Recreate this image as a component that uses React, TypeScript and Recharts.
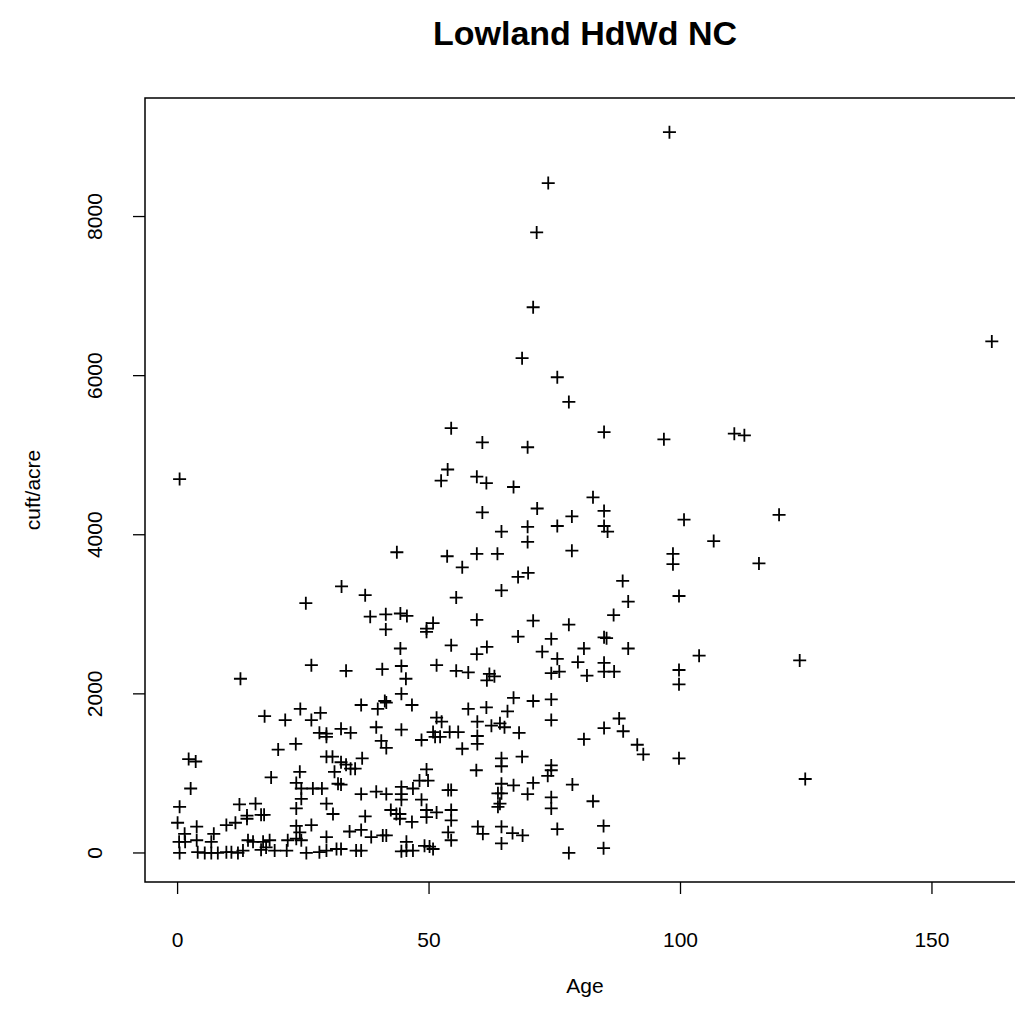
import React from 'react';
import { ScatterChart, Scatter, XAxis, YAxis, ReferenceArea, Label } from 'recharts';

// Stand age (years) and gross volume (cubic feet per acre) for each plot
const ages = [
  97.8, 73.7, 71.4, 70.7, 68.5, 75.5, 77.8, 161.9,
  84.8, 96.7, 69.6, 66.8, 82.6, 71.5, 84.8, 78.4, 100.7,
  110.7, 112.7, 119.6,
  106.6, 115.6, 103.7, 123.7, 124.8,
  69.6, 69.6, 75.5, 84.8, 85.5, 78.4, 98.5, 98.5, 67.7, 69.7, 88.5, 99.7, 89.6,
  86.7, 70.7, 77.8, 67.7, 74.3, 84.8, 85.3, 72.5, 80.8, 89.6, 75.5, 79.6, 84.8,
  74.3, 75.9, 81.4, 84.8, 86.8, 99.7, 99.7, 66.8, 70.7, 74.3, 74.3, 87.8, 84.8,
  88.6, 67.9, 80.8, 91.4, 92.6, 68.5, 99.7, 74.3, 74.3,
  73.6, 66.8, 70.7, 69.6, 74.3, 78.5, 74.3, 82.6, 84.7, 75.5, 66.6, 68.6, 84.7, 77.8,
  18.6, 24.3, 23.6, 31.2, 31.9, 2.6, 24.6, 26.9, 28.7, 24.6, 0.4, 12.3, 15.5, 23.6,
  29.6, 30.9, 13.8, 16.6, 17.2, 0, 9.7, 11.5, 13.8, 23.6, 26.6, 3.8, 1.4, 0.3, 1.5,
  3.8, 7.2, 6.7, 14.0, 15.0, 17.0, 18.3, 21.9, 23.6, 24.6, 29.6, 24.3, 0.4, 4.0, 6.7,
  9.7, 10.7, 12.0, 13.0, 16.6, 17.6, 19.3, 21.7, 25.6, 28.2, 29.6, 31.6, 5.4, 8.0,
  49.8, 48.1, 32.5, 36.5, 39.5, 41.5, 44.5, 44.5, 44.5, 46.8, 48.5, 53.8, 54.4, 64.4,
  63.7, 64.4, 64.1, 63.7, 37.3, 42.4, 43.5, 44.2, 44.2, 46.6, 49.5, 49.5, 51.5, 54.4,
  54.4, 59.7, 60.7, 64.4, 64.4, 53.8, 54.4, 34.2, 36.5, 38.5, 40.8, 41.5, 32.5, 35.5,
  36.5, 44.5, 45.5, 46.8, 45.5, 49.1, 50.1, 50.8,
  26.6, 12.5, 17.3, 21.4, 24.4, 26.6, 28.4, 28.2, 29.6, 29.6, 20.0, 23.5, 2.2, 3.6,
  29.6, 30.8,
  33.5, 40.7, 44.5, 45.4, 51.5, 55.4, 57.8, 62.0, 63.0, 61.5, 44.5, 36.5, 41.2, 41.5,
  39.8, 46.6, 39.5, 32.5, 34.4, 44.5, 40.5, 41.5, 57.8, 61.4, 65.6, 51.5, 52.5, 50.8,
  51.2, 52.2, 48.5, 54.1, 55.8, 56.6, 59.6, 59.6, 59.6, 62.4, 64.1, 65.0, 64.4, 64.4,
  59.4, 49.5, 36.7, 32.5, 33.5, 34.4, 35.3,
  0.4, 54.4, 60.6, 53.7, 52.4, 59.5, 61.4, 60.6, 64.4, 43.6, 53.6, 59.5, 63.6, 56.6,
  32.6, 37.3, 25.5, 55.4, 64.4, 38.3, 41.4, 44.3, 45.6, 41.4, 50.8, 49.5, 49.5, 59.5,
  44.3, 54.4, 59.5, 61.5,
];

const volumes = [
  9060, 8420, 7800, 6860, 6220, 5980, 5670, 6430,
  5290, 5200, 5100, 4600, 4470, 4330, 4300, 4230, 4190,
  5270, 5250, 4250,
  3920, 3640, 2480, 2420, 930,
  4100, 3910, 4110, 4110, 4040, 3800, 3760, 3630, 3470, 3520, 3420, 3230, 3160,
  2990, 2920, 2870, 2720, 2690, 2710, 2700, 2530, 2570, 2570, 2440, 2400, 2390,
  2260, 2280, 2230, 2280, 2280, 2300, 2120, 1950, 1910, 1930, 1670, 1690, 1570,
  1530, 1510, 1430, 1360, 1240, 1210, 1190, 1100, 1040,
  970, 850, 880, 740, 700, 860, 560, 650, 340, 300, 250, 220, 60, 0,
  950, 1020, 880, 1020, 870, 810, 810, 810, 810, 680, 580, 610, 620, 560,
  620, 490, 470, 480, 480, 380, 350, 380, 430, 340, 350, 330, 240, 140, 140,
  160, 240, 140, 160, 140, 140, 160, 160, 180, 160, 200, 260, 0, 10, 0,
  10, 10, 0, 30, 40, 70, 30, 30, 0, 10, 30, 50, 0, 0,
  910, 910, 860, 740, 770, 740, 830, 740, 670, 810, 670, 790, 790, 870,
  750, 750, 620, 580, 460, 540, 490, 490, 430, 390, 540, 450, 510, 540,
  410, 330, 240, 330, 120, 260, 160, 270, 290, 200, 220, 220, 50, 30,
  30, 20, 30, 30, 140, 90, 80, 50,
  2360, 2190, 1720, 1670, 1810, 1670, 1760, 1510, 1500, 1460, 1300, 1370, 1180, 1150,
  1210, 1210,
  2290, 2310, 2350, 2190, 2360, 2290, 2270, 2250, 2220, 2170, 2000, 1860, 1910, 1890,
  1810, 1860, 1580, 1560, 1510, 1550, 1410, 1320, 1810, 1830, 1780, 1700, 1650, 1520,
  1460, 1460, 1420, 1520, 1520, 1310, 1650, 1470, 1370, 1600, 1630, 1580, 1190, 1090,
  1040, 1050, 1190, 1140, 1110, 1060, 1060,
  4700, 5340, 5160, 4820, 4680, 4730, 4650, 4280, 4040, 3780, 3730, 3760, 3760, 3590,
  3350, 3240, 3140, 3210, 3300, 2970, 3000, 3010, 2980, 2810, 2890, 2820, 2780, 2930,
  2570, 2610, 2500, 2590,
];

const xTicks = [0, 50, 100, 150];
const yTicks = [0, 2000, 4000, 6000, 8000];
const chartTitle = 'Lowland HdWd NC';
const xLabel = 'Age';
const yLabel = 'cuft/acre';

const plots = ages.map((age, i) => ({ age, volume: volumes[i] }));

// Axis limits padded 4% past the data range on each side
const X_DOMAIN: [number, number] = [-6.48, 168.5];
const Y_DOMAIN: [number, number] = [-365, 9490];

const FONT = '"Liberation Sans", Arial, Helvetica, sans-serif';
const CHART_W = 1040;
const CHART_H = 1030;

// "+" marker
const PlusMarker = (props: any) => {
  const { cx, cy } = props;
  if (cx == null || cy == null) return null;
  const h = 6.5;
  return (
    <path
      d={`M${cx - h},${cy}H${cx + h}M${cx},${cy - h}V${cy + h}`}
      stroke="#000"
      strokeWidth={1.8}
      fill="none"
    />
  );
};

const XTick = (props: any) => {
  const { x, payload } = props;
  return (
    <text x={x} y={947} textAnchor="middle" fontSize={21} fontFamily={FONT} fill="#000">
      {payload.value}
    </text>
  );
};

const YTick = (props: any) => {
  const { y, payload } = props;
  const bx = 102;
  return (
    <text
      x={bx}
      y={y}
      transform={`rotate(-90, ${bx}, ${y})`}
      textAnchor="middle"
      fontSize={21}
      fontFamily={FONT}
      fill="#000"
    >
      {payload.value}
    </text>
  );
};

const XTitle = () => (
  <text x={585} y={993} textAnchor="middle" fontSize={21} fontFamily={FONT} fill="#000">
    {xLabel}
  </text>
);

const YTitle = () => (
  <text
    x={40}
    y={490}
    transform="rotate(-90, 40, 490)"
    textAnchor="middle"
    fontSize={21}
    fontFamily={FONT}
    fill="#000"
  >
    {yLabel}
  </text>
);

export default function App() {
  return (
    <div
      style={{
        position: 'absolute',
        left: 0,
        top: 0,
        width: 1015,
        height: 1030,
        overflow: 'hidden',
        background: '#fff',
      }}
    >
      <div
        style={{
          position: 'absolute',
          left: 0,
          top: 13,
          width: 1170,
          textAlign: 'center',
          fontFamily: FONT,
          fontWeight: 'bold',
          fontSize: 34,
          lineHeight: '40px',
          color: '#000',
        }}
      >
        {chartTitle}
      </div>
      <ScatterChart
        width={CHART_W}
        height={CHART_H}
        margin={{ top: 98, right: 15, bottom: 0, left: 0 }}
        style={{ position: 'absolute', left: 0, top: 0 }}
      >
        <XAxis
          dataKey="age"
          type="number"
          domain={X_DOMAIN}
          ticks={xTicks}
          allowDataOverflow
          height={148}
          axisLine={false}
          tickLine={{ stroke: '#000', strokeWidth: 1.3 }}
          tickSize={12}
          tick={<XTick />}
          interval={0}
        >
          <Label content={<XTitle />} />
        </XAxis>
        <YAxis
          dataKey="volume"
          type="number"
          domain={Y_DOMAIN}
          ticks={yTicks}
          allowDataOverflow
          width={145}
          axisLine={false}
          tickLine={{ stroke: '#000', strokeWidth: 1.3 }}
          tickSize={12}
          tick={<YTick />}
          interval={0}
        >
          <Label content={<YTitle />} />
        </YAxis>
        <ReferenceArea
          x1={X_DOMAIN[0]}
          x2={X_DOMAIN[1]}
          y1={Y_DOMAIN[0]}
          y2={Y_DOMAIN[1]}
          fill="none"
          fillOpacity={0}
          stroke="#000"
          strokeWidth={1.5}
          ifOverflow="visible"
        />
        <Scatter data={plots} shape={<PlusMarker />} isAnimationActive={false} />
      </ScatterChart>
    </div>
  );
}
